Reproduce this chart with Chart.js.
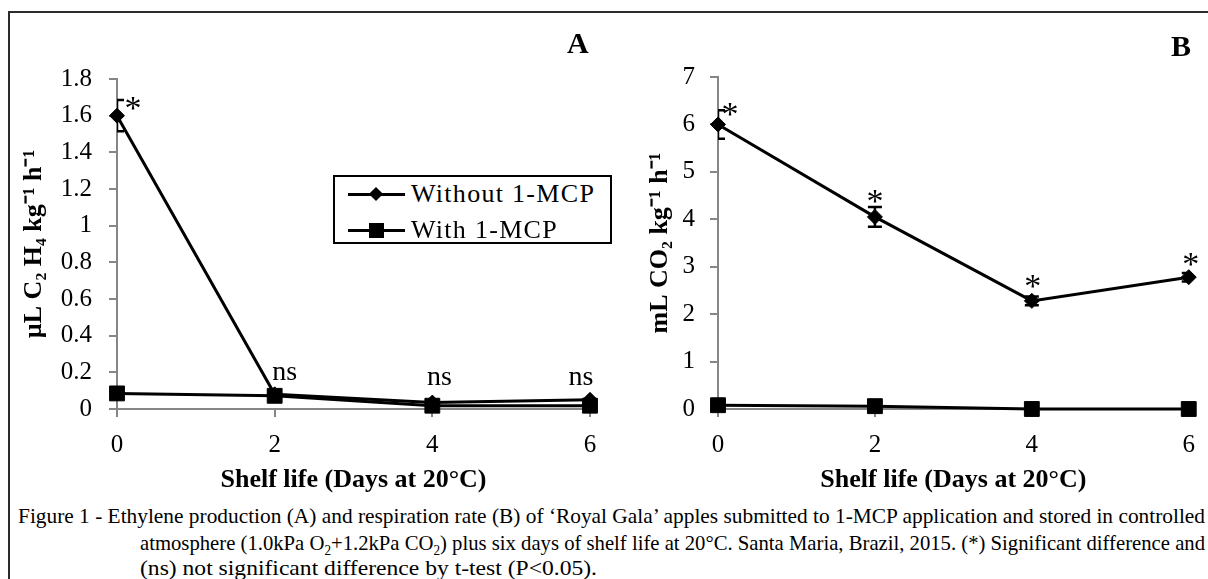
<!DOCTYPE html>
<html>
<head>
<meta charset="utf-8">
<script src="https://cdn.jsdelivr.net/npm/chart.js@4.4.0/dist/chart.umd.min.js"></script>
<style>
    body { margin: 0; width: 1208px; height: 579px; background: #fff; position: relative; overflow: hidden;
           font-family: "Liberation Serif", "Times New Roman", serif; color: #000; }
    .frame { position: absolute; left: 8px; top: 11px; width: 1220px; height: 600px;
             border-top: 2px solid #2b2b2b; border-left: 2px solid #2b2b2b; }
    #wrapA { position: absolute; left: 0; top: 0; width: 610px; height: 500px; }
    #wrapB { position: absolute; left: 610px; top: 0; width: 598px; height: 500px; }
    .panel { position: absolute; font-weight: bold; font-size: 30px; line-height: 30px; }
    #legend { position: absolute; left: 333px; top: 175px; width: 279px; height: 69px;
              border: 2px solid #000; box-sizing: border-box; background: #fff; }
    .legend-row { position: absolute; left: 13px; height: 30px; display: flex; align-items: center;
                  font-size: 26px; letter-spacing: 1.3px; white-space: nowrap; }
    .legend-line { position: relative; display: inline-block; width: 57px; height: 3px; background: #000;
                   margin-right: 6px; }
    .legend-line .marker { position: absolute; background: #000; }
    .marker.rectRot { width: 10px; height: 10px; left: 23px; top: -4px; transform: rotate(45deg); }
    .marker.rect { width: 15px; height: 15px; left: 21px; top: -6px; }
    .cap { position: absolute; font-size: 22px; line-height: 26px; white-space: nowrap;
           transform-origin: 0 50%; }
    .cap sub { font-size: 14px; line-height: 0; }
</style>
</head>
<body>
<div class="frame"></div>
<div id="wrapA"><canvas id="chartA" width="610" height="500"></canvas></div>
<div id="wrapB"><canvas id="chartB" width="598" height="500"></canvas></div>
<div class="panel" style="left:567px; top:28px;">A</div>
<div class="panel" style="left:1171px; top:31px;">B</div>
<div id="legend"></div>

<div class="cap" data-w="1187" style="left:18px; top:503px;">Figure 1 - Ethylene production (A) and respiration rate (B) of ‘Royal Gala’ apples submitted to 1-MCP application and stored in controlled</div>
<div class="cap" data-w="1065" style="left:140px; top:530px;">atmosphere (1.0kPa O<sub>2</sub>+1.2kPa CO<sub>2</sub>) plus six days of shelf life at 20°C. Santa Maria, Brazil, 2015. (*) Significant difference and</div>
<div class="cap" data-w="457" style="left:140px; top:555px;">(ns) not significant difference by t-test (P&lt;0.05).</div>

<script>
// shelf life days
const days = [0, 2, 4, 6];

// A - ethylene production (µL C2H4 kg-1 h-1)
const ethyleneWithout = [1.6, 0.08, 0.035, 0.05];
const ethyleneWith = [0.085, 0.072, 0.018, 0.018];
const ethyleneErr = [0.085, 0.01, 0.005, 0.005];
const ethyleneSig = ['*', 'ns', 'ns', 'ns'];

// B - respiration rate (mL CO2 kg-1 h-1)
const respWithout = [6.0, 4.05, 2.28, 2.78];
const respWith = [0.08, 0.06, 0.0, 0.0];
const respErr = [0.3, 0.21, 0.09, 0.09];
const respSig = ['*', '*', '*', '*'];

const legendLabels = ['Without 1-MCP', 'With 1-MCP'];

const serif = '"Liberation Serif", "Times New Roman", serif';
Chart.defaults.font.family = serif;
Chart.defaults.color = '#000';

const errorMarks = {
    id: 'errorMarks',
    afterDatasetsDraw(chart, args, opts) {
        const { ctx, chartArea, scales: { x, y } } = chart;
        chart.data.datasets.forEach((ds, i) => {
            if (!ds.errors) return;
            ctx.save();
            ctx.beginPath();
            ctx.rect(chartArea.left, 0, chartArea.right - chartArea.left, chart.height);
            ctx.clip();
            ctx.strokeStyle = '#000';
            ctx.lineWidth = 2.5;
            ds.data.forEach((pt, j) => {
                const px = x.getPixelForValue(pt.x);
                const top = y.getPixelForValue(pt.y + ds.errors[j]);
                const bot = y.getPixelForValue(pt.y - ds.errors[j]);
                ctx.beginPath();
                ctx.moveTo(px, top); ctx.lineTo(px, bot);
                ctx.moveTo(px - 7, top); ctx.lineTo(px + 7, top);
                ctx.moveTo(px - 7, bot); ctx.lineTo(px + 7, bot);
                ctx.stroke();
            });
            ctx.restore();

            ctx.save();
            ctx.fillStyle = '#000';
            ctx.textAlign = 'center';
            ctx.textBaseline = 'middle';
            ds.data.forEach((pt, j) => {
                const label = ds.sig[j];
                const px = x.getPixelForValue(pt.x) + opts.dx[j];
                const top = y.getPixelForValue(pt.y + ds.errors[j]) + opts.dy[j];
                ctx.font = label === '*' ? '34px ' + serif : '28px ' + serif;
                ctx.fillText(label, px, top + (label === '*' ? 8 : 0));
            });
            ctx.restore();
        });
    }
};

function makeChart(canvasId, withoutVals, withVals, errs, sig, cfg) {
    const ctx = document.getElementById(canvasId).getContext('2d');
    const toPoints = vals => days.map((d, i) => ({ x: d, y: vals[i] }));
    const axisGray = '#868686';

    return new Chart(ctx, {
        type: 'line',
        data: {
            datasets: [{
                label: legendLabels[0],
                data: toPoints(withoutVals),
                errors: errs,
                sig: sig,
                borderColor: '#000',
                backgroundColor: '#000',
                borderWidth: 3,
                pointStyle: 'rectRot',
                pointRadius: 7.5,
                pointBorderWidth: 1,
                clip: false,
                tension: 0
            }, {
                label: legendLabels[1],
                data: toPoints(withVals),
                borderColor: '#000',
                backgroundColor: '#000',
                borderWidth: 3,
                pointStyle: 'rect',
                pointRadius: 10.5,
                pointBorderWidth: 1,
                clip: false,
                tension: 0
            }]
        },
        options: {
            responsive: false,
            animation: false,
            layout: { padding: cfg.padding },
            plugins: {
                legend: { display: false },
                tooltip: { enabled: false },
                errorMarks: { dx: cfg.dx, dy: cfg.dy }
            },
            scales: {
                x: {
                    type: 'linear',
                    min: 0,
                    max: 6,
                    afterFit: s => { s.height = 91; },
                    grid: { drawOnChartArea: false, drawTicks: true, tickLength: 8, color: axisGray, lineWidth: 2 },
                    border: { color: axisGray, width: 2 },
                    ticks: { stepSize: 2, padding: 13, font: { family: serif, size: 25 } },
                    title: {
                        display: true,
                        text: 'Shelf life (Days at 20°C)',
                        font: { family: serif, size: 26, weight: 'bold' },
                        padding: { top: 0, bottom: 4 }
                    }
                },
                y: {
                    min: 0,
                    max: cfg.yMax,
                    afterFit: s => { s.width = cfg.yWidth; },
                    grid: { drawOnChartArea: false, drawTicks: true, tickLength: 8, color: axisGray, lineWidth: 2 },
                    border: { color: axisGray, width: 2 },
                    ticks: {
                        stepSize: cfg.step,
                        padding: cfg.tickPad,
                        font: { family: serif, size: 25 },
                        callback: v => String(Number(v.toFixed(1)))
                    },
                    title: {
                        display: true,
                        text: cfg.title,
                        font: { family: serif, size: 26, weight: 'bold' },
                        padding: { top: cfg.titlePad, bottom: 0 }
                    }
                }
            }
        },
        plugins: [errorMarks]
    });
}

const chartA = makeChart('chartA', ethyleneWithout, ethyleneWith, ethyleneErr, ethyleneSig, {
    yMax: 1.8, step: 0.2, yWidth: 99, tickPad: 17, titlePad: 1,
    title: 'µL C₂ H₄ kg⁻¹ h⁻¹',
    padding: { left: 18, right: 20, top: 79, bottom: 0 },
    dx: [16, 10, 7, -9], dy: [2, -20, -24, -21]
});

const chartB = makeChart('chartB', respWithout, respWith, respErr, respSig, {
    yMax: 7, step: 1, yWidth: 90, tickPad: 15, titlePad: 17,
    title: 'mL CO₂ kg⁻¹ h⁻¹',
    padding: { left: 18, right: 12, top: 77, bottom: 0 },
    dx: [12, 0, 1, 2], dy: [-2, -12, -17, -15]
});

function buildLegend(chart) {
    const box = document.getElementById('legend');
    chart.data.datasets.forEach((ds, i) => {
        const row = document.createElement('div');
        row.className = 'legend-row';
        row.style.top = (i === 0 ? 2 : 38) + 'px';
        row.innerHTML = `<span class="legend-line"><span class="marker ${ds.pointStyle}"></span></span><span>${ds.label}</span>`;
        box.appendChild(row);
    });
}
buildLegend(chartA);

// squeeze each caption line to the width it takes in the figure
document.querySelectorAll('.cap').forEach(el => {
    const natural = el.getBoundingClientRect().width;
    const target = Number(el.dataset.w);
    el.style.transform = `scaleX(${target / natural})`;
});
</script>
</body>
</html>
